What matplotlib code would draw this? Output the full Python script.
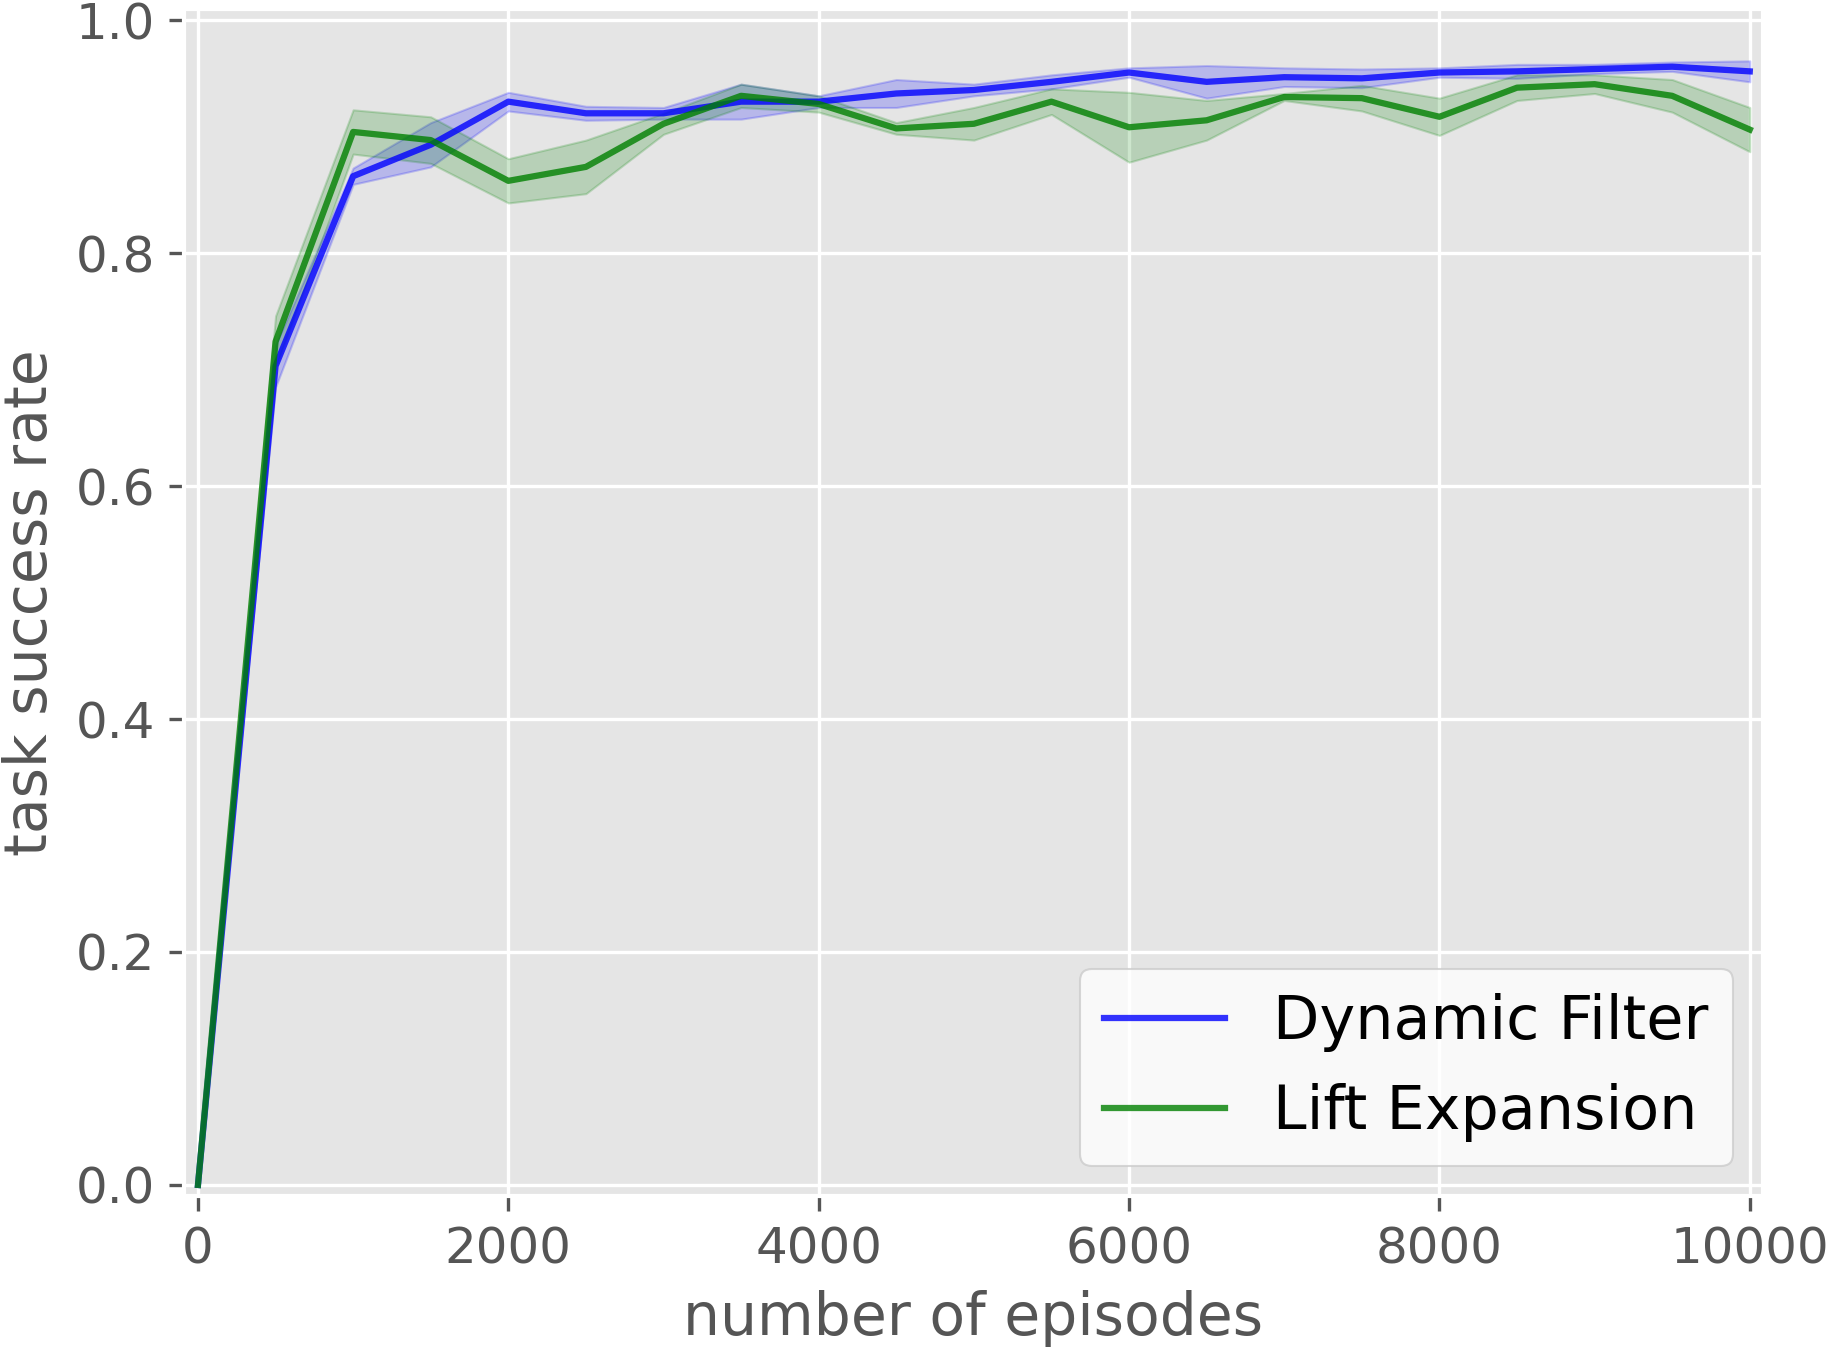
import numpy as np
import matplotlib
matplotlib.use('Agg')
import matplotlib.pyplot as plt

plt.style.use('ggplot')

episodes = np.arange(0, 10001, 500)

df_mean = [0.0, 0.703, 0.866, 0.893, 0.930, 0.920, 0.920, 0.930, 0.930, 0.937, 0.940,
           0.947, 0.955, 0.947, 0.951, 0.950, 0.955, 0.956, 0.958, 0.960, 0.956]
df_std = [0.0, 0.018, 0.007, 0.019, 0.008, 0.006, 0.005, 0.015, 0.005, 0.012, 0.005,
          0.006, 0.004, 0.014, 0.008, 0.008, 0.004, 0.006, 0.004, 0.004, 0.009]

le_mean = [0.0, 0.724, 0.904, 0.897, 0.862, 0.874, 0.911, 0.935, 0.928, 0.907, 0.911,
           0.930, 0.908, 0.914, 0.934, 0.933, 0.917, 0.942, 0.945, 0.935, 0.906]
le_std = [0.0, 0.022, 0.019, 0.020, 0.019, 0.023, 0.009, 0.010, 0.007, 0.005, 0.014,
          0.011, 0.030, 0.017, 0.003, 0.011, 0.016, 0.011, 0.008, 0.014, 0.019]

df_mean = np.array(df_mean)
df_std = np.array(df_std)
le_mean = np.array(le_mean)
le_std = np.array(le_std)

fig = plt.figure(figsize=(1829 / 300, 1349 / 300), dpi=300)
ax = fig.add_axes([0.1006, 0.1134, 0.8633, 0.8799])

ax.plot(episodes, df_mean, color='b', alpha=0.8, lw=1.5, label='Dynamic Filter')
ax.fill_between(episodes, df_mean - df_std, df_mean + df_std, color='b', alpha=0.2)
ax.plot(episodes, le_mean, color='g', alpha=0.8, lw=1.5, label='Lift Expansion')
ax.fill_between(episodes, le_mean - le_std, le_mean + le_std, color='g', alpha=0.2)

ax.set_xlim(-90, 10085)
ax.set_ylim(-0.0095, 1.0095)
ax.set_xticks([0, 2000, 4000, 6000, 8000, 10000])
ax.set_yticks([0.0, 0.2, 0.4, 0.6, 0.8, 1.0])
ax.tick_params(labelsize=12)
ax.set_xlabel('number of episodes', fontsize=14)
ax.set_ylabel('task success rate', fontsize=14)

leg = ax.legend(loc='lower right', fontsize=14.5, facecolor='white')
for t in leg.get_texts():
    t.set_color('black')

fig.savefig('out.png', dpi=300)
